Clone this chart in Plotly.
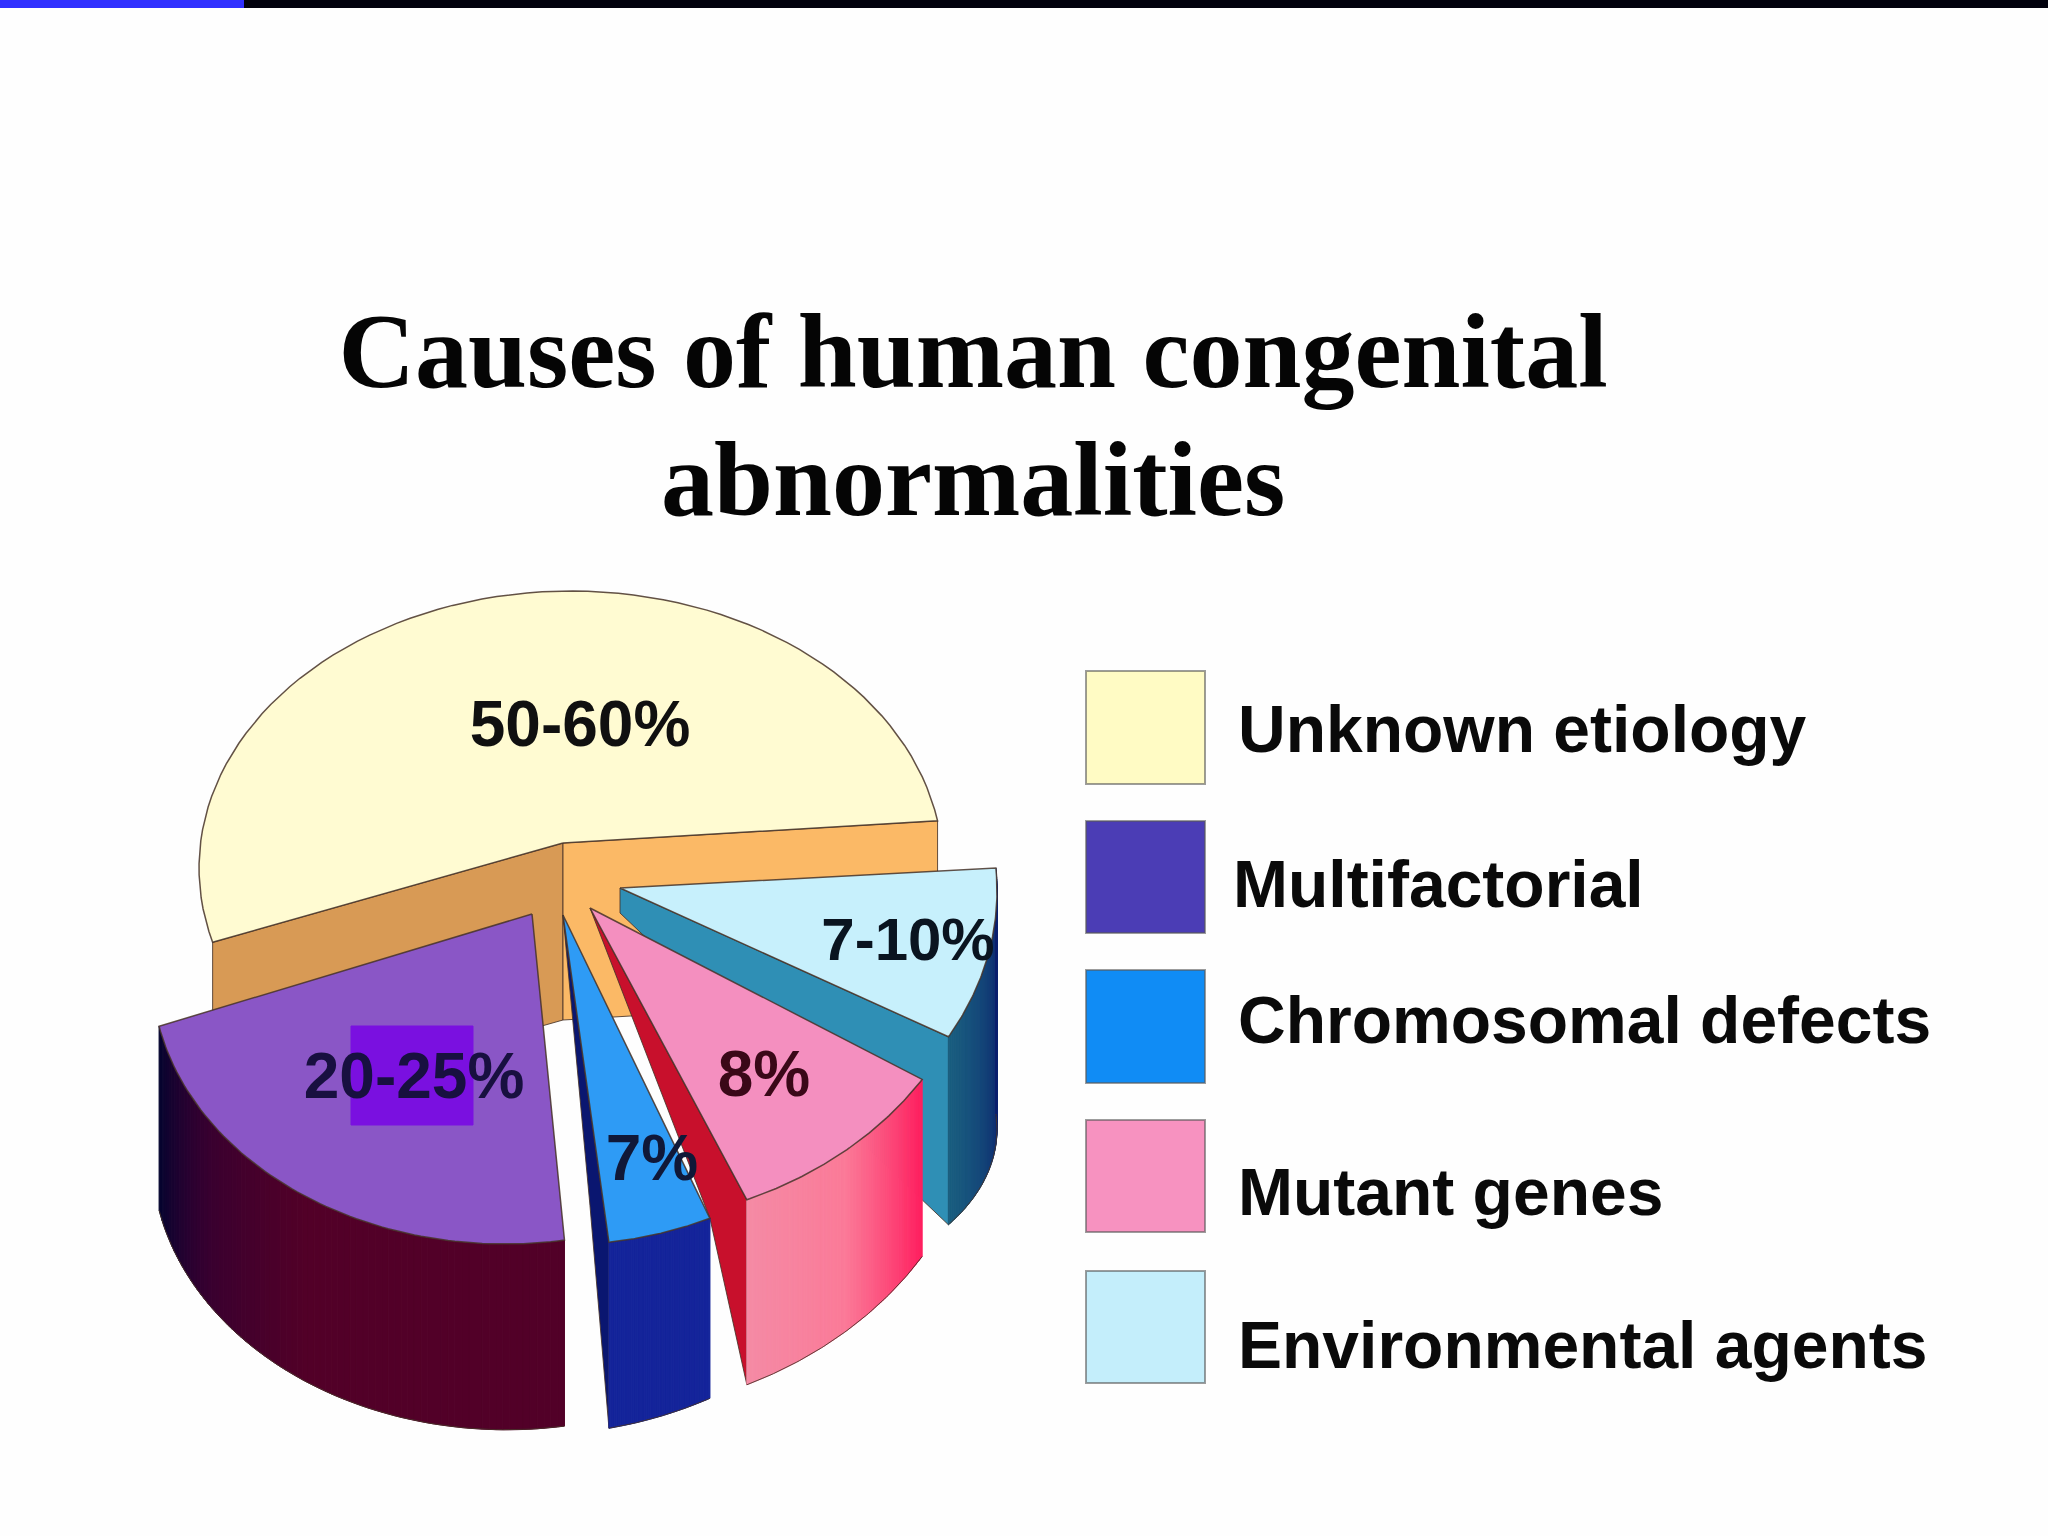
import numpy as np
import plotly.graph_objects as go

# ---- data ----
categories = ["Unknown etiology", "Multifactorial", "Chromosomal defects", "Mutant genes", "Environmental agents"]
slice_labels = ["50-60%", "20-25%", "7%", "8%", "7-10%"]
# share of the full circle that each drawn slice visibly spans (percent)
drawn_share = [51.6, 24.5, 4.4, 9.6, 9.4]

# ---- chart title ----
title_lines = ["Causes of human congenital", "abnormalities"]

# ---- geometry and style (pixels on a 2048 x 1536 axis) ----
W, H = 2048, 1536
start_deg = {"Unknown etiology": 9.8, "Multifactorial": 191.5, "Chromosomal defects": 277.4,
             "Mutant genes": 293.2, "Environmental agents": 330.6}
ellipse = {"Unknown etiology": (571, 868, 372, 277), "Multifactorial": (505, 972, 353, 272),
           "Chromosomal defects": (560, 916, 380, 329), "Mutant genes": (594, 913, 388, 312),
           "Environmental agents": (620, 891, 377, 297)}
apex = {"Unknown etiology": (563, 843), "Multifactorial": (532, 914), "Chromosomal defects": (563, 915),
        "Mutant genes": (590, 908), "Environmental agents": (620, 888)}
depth = {"Unknown etiology": (177, 177), "Multifactorial": (184, 186), "Chromosomal defects": (186, 180),
         "Mutant genes": (185, 177), "Environmental agents": (188, 246)}
top_color = {"Unknown etiology": "#FFFBD2", "Multifactorial": "#8A56C6", "Chromosomal defects": "#2E9BF5",
             "Mutant genes": "#F48FBF", "Environmental agents": "#C7F0FC"}
wall_stops = {"Multifactorial": ["#050530", "#3A0030", "#520028", "#520028", "#520028"],
              "Chromosomal defects": ["#14249A", "#14249A"],
              "Mutant genes": ["#F58BA5", "#FB7A98", "#FF2060"],
              "Environmental agents": ["#1A5F80", "#0C1F6E"]}
inner_color = {"Chromosomal defects": "#0A1670", "Mutant genes": "#C8102C", "Environmental agents": "#2F8FB5"}
label_pos = {"Unknown etiology": (580, 730), "Multifactorial": (414, 1082), "Chromosomal defects": (652, 1164),
             "Mutant genes": (764, 1080), "Environmental agents": (908, 945)}
label_size = {"Unknown etiology": 64, "Multifactorial": 64, "Chromosomal defects": 64,
              "Mutant genes": 64, "Environmental agents": 60}
label_color = {"Unknown etiology": "#101010", "Multifactorial": "#181040", "Chromosomal defects": "#101838",
               "Mutant genes": "#3A0818", "Environmental agents": "#0A1420"}
legend_swatch = ["#FFFBC4", "#4B3DB5", "#108CF5", "#F792C0", "#C4EEFB"]
legend_box_y = [(671, 784), (821, 933), (970, 1083), (1120, 1232), (1271, 1383)]
legend_text_xy = [(1238, 735), (1233, 890), (1238, 1026), (1238, 1198), (1238, 1351)]
FONT = "Liberation Sans"
EDGE = "rgba(70,50,40,0.85)"


def hex2rgb(c):
    return np.array([int(c[i:i + 2], 16) for i in (1, 3, 5)], float)


def mix(stops, t):
    p = t * (len(stops) - 1)
    i = min(int(p), len(stops) - 2)
    f = p - i
    c = hex2rgb(stops[i]) * (1 - f) + hex2rgb(stops[i + 1]) * f
    return "rgb(%d,%d,%d)" % tuple(c)


def arc(name, n=80):
    share = drawn_share[categories.index(name)]
    a0 = start_deg[name]
    th = np.radians(np.linspace(a0, a0 + share * 3.6, n))
    cx, cy, rx, ry = ellipse[name]
    return cx + rx * np.cos(th), cy - ry * np.sin(th)


fig = go.Figure()


def poly(xs, ys, fill, line=None, lw=1):
    fig.add_trace(go.Scatter(x=list(xs) + [xs[0]], y=list(ys) + [ys[0]], mode="lines", fill="toself",
                             fillcolor=fill, line=dict(color=line or fill, width=lw), hoverinfo="skip"))


def label(name):
    i = categories.index(name)
    x, y = label_pos[name]
    fig.add_trace(go.Scatter(x=[x], y=[y], mode="text", text=[slice_labels[i]], textposition="middle center",
                             textfont=dict(family=FONT, size=label_size[name], weight="bold", color=label_color[name]),
                             hoverinfo="skip", cliponaxis=False))


def wall(name):
    xs, ys = arc(name)
    d0, d1 = depth[name]
    dz = np.linspace(d0, d1, len(xs))
    n = len(xs) - 1
    for k in range(n):
        poly([xs[k], xs[k + 1], xs[k + 1], xs[k]],
             [ys[k], ys[k + 1], ys[k + 1] + dz[k + 1], ys[k] + dz[k]], mix(wall_stops[name], k / max(n - 1, 1)))
    fig.add_trace(go.Scatter(x=xs, y=ys + dz, mode="lines", line=dict(color=EDGE, width=1), hoverinfo="skip"))


def top(name):
    xs, ys = arc(name)
    ax, ay = apex[name]
    poly([ax] + list(xs), [ay] + list(ys), top_color[name], EDGE, 1.5)


# ---- Unknown etiology: two cut faces, then the top ----
n0 = categories[0]
xs0, ys0 = arc(n0)
ax0, ay0 = apex[n0]
d0 = depth[n0][0]
poly([ax0, xs0[-1], xs0[-1], ax0], [ay0, ys0[-1], ys0[-1] + d0, ay0 + d0], "#D89A55", EDGE, 1)
poly([ax0, xs0[0], xs0[0], ax0], [ay0, ys0[0], ys0[0] + d0, ay0 + d0], "#FBB966", EDGE, 1)
top(n0)

# ---- Environmental agents ----
n = categories[4]
xs, ys = arc(n)
ax, ay = apex[n]
poly([ax, xs[0], xs[0], ax], [ay, ys[0], ys[0] + 188, ay + 25], inner_color[n], EDGE, 1)
wall(n)
top(n)
label(n)

# ---- Mutant genes: the red cut face runs behind the chromosomal slice ----
n = categories[3]
xs, ys = arc(n)
ax, ay = apex[n]
xc, yc = arc(categories[2])
poly([ax, xs[0], xs[0], xc[-1]], [ay, ys[0], ys[0] + depth[n][0], yc[-1]], inner_color[n], EDGE, 1)
wall(n)
top(n)
label(n)

# ---- Chromosomal defects ----
n = categories[2]
xs, ys = arc(n)
ax, ay = apex[n]
poly([ax, xs[0], xs[0], xs[0] - 19], [ay, ys[0], ys[0] + depth[n][0], ys[0] - 37], inner_color[n], EDGE, 1)
wall(n)
top(n)
label(n)

# ---- Multifactorial ----
n = categories[1]
wall(n)
top(n)
poly([351, 473, 473, 351], [1026, 1026, 1125, 1125], "#7A10E0")
label(n)

# ---- Unknown label ----
label(categories[0])

# ---- legend ----
shapes = [
    dict(type="rect", xref="x", yref="y", x0=0, x1=W, y0=0, y1=8, fillcolor="#02020E", line_width=0),
    dict(type="rect", xref="x", yref="y", x0=0, x1=244, y0=0, y1=8, fillcolor="#3030FF", line_width=0),
]
for c, (y0, y1) in zip(legend_swatch, legend_box_y):
    shapes.append(dict(type="rect", xref="x", yref="y", x0=1086, x1=1205, y0=y0, y1=y1, fillcolor=c,
                       line=dict(color="rgba(90,90,90,0.6)", width=2)))
for name, (x, y) in zip(categories, legend_text_xy):
    fig.add_trace(go.Scatter(x=[x], y=[y], mode="text", text=[name], textposition="middle right",
                             textfont=dict(family=FONT, size=66, weight="bold", color="#0A0A0A"), hoverinfo="skip",
                             cliponaxis=False))

title_font = dict(family="Liberation Serif", size=106, weight="bold", color="#050505")
fig.update_layout(
    width=W, height=H, margin=dict(l=0, r=0, t=0, b=0), showlegend=False,
    paper_bgcolor="#FEFEFE", plot_bgcolor="#FEFEFE", shapes=shapes,
    title=dict(text=title_lines[0], x=973 / W, y=1 - 313 / H, xanchor="center", yanchor="top", font=title_font),
    annotations=[dict(text=title_lines[1], x=973, y=479, xref="x", yref="y", xanchor="center", yanchor="middle",
                      showarrow=False, font=title_font)],
    xaxis=dict(range=[0, W], visible=False, fixedrange=True),
    yaxis=dict(range=[H, 0], visible=False, fixedrange=True),
)
fig.write_html("out.html", config={"displayModeBar": False}, post_script="document.body.style.margin='0';")
